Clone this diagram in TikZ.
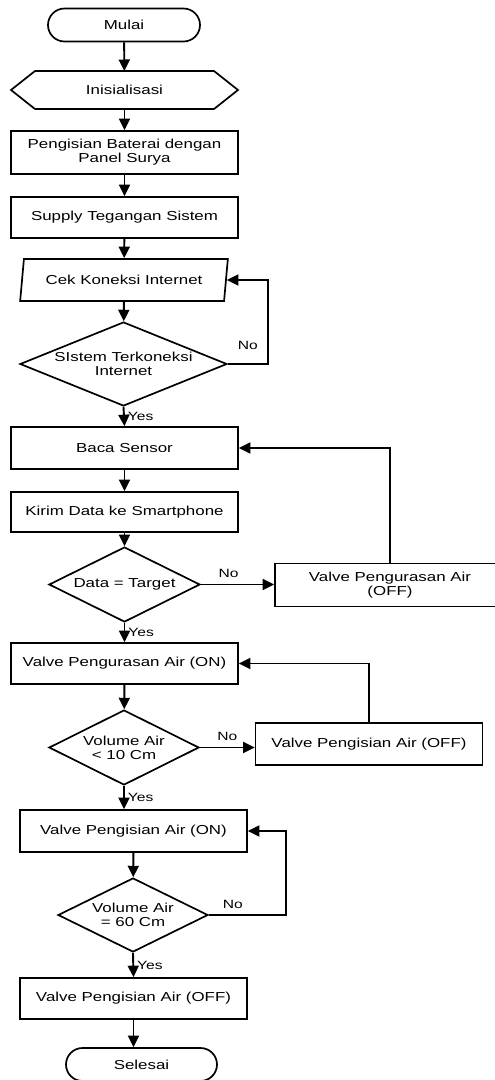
\documentclass[tikz,border=0pt]{standalone}
\usepackage{fontspec}
\setmainfont{Liberation Sans}[FakeStretch=1.3]
\usetikzlibrary{arrows.meta, shapes.geometric, shapes.misc}

\begin{document}
\begin{tikzpicture}[x = 1pt, y = -1pt,
		font = \fontsize{13}{14}\selectfont,
		every node/.style = {align = center, inner sep = 0pt, line width = 1.7pt},
		terminal/.style = {rounded rectangle, draw, minimum width = 152, minimum height = 33},
		process/.style = {rectangle, draw, minimum width = 227, minimum height = 42},
		decision/.style = {diamond, draw, aspect = 2, minimum width = 150, minimum height = 75},
		inout/.style = {trapezium, draw, trapezium stretches, trapezium left angle = 72.8,
			trapezium right angle = 107.2, minimum width = 208, minimum height = 42},
		flow/.style = {line width = 1.9pt, -{Triangle[length = 11.5pt, width = 11pt]}},
		tag/.style = {font = \fontsize{12}{14}\selectfont, inner sep = 3pt}]
			 	\useasboundingbox (0, 0) rectangle (495, 1080);
			 	\clip (0, 0) rectangle (495, 1080);

			 	% Nodes
			 	\node[terminal] (mulai) at (124, 25) {Mulai};
			 	\node[minimum width = 227, minimum height = 38, outer sep = 0pt] (init) at (124.5, 90) {Inisialisasi};
			 	\draw[line width = 1.7pt] (init.west) -- ([xshift = 24]init.north west) -- ([xshift = -24]init.north east)
			 		-- (init.east) -- ([xshift = -24]init.south east) -- ([xshift = 24]init.south west) -- cycle;
			 	\node[process, minimum height = 43] (baterai) at (124.5, 152.5) {Pengisian Baterai dengan\\Panel Surya};
			 	\node[process, minimum height = 41] (supply) at (124.5, 217.5) {Supply Tegangan Sistem};
			 	\node[inout] (cek) at (124, 280) {Cek Koneksi Internet};
			 	\node[decision, aspect = 2.46, minimum width = 207, minimum height = 84] (koneksi) at (123.5, 364) {SIstem Terkoneksi\\Internet};
			 	\node[process] (baca) at (124.5, 448) {Baca Sensor};
			 	\node[process, minimum height = 40] (kirim) at (124.5, 512) {Kirim Data ke Smartphone};
			 	\node[decision, minimum width = 151] (target) at (124.5, 584.5) {Data = Target};
			 	\node[process, minimum width = 230, minimum height = 43] (kurasoff) at (390, 585) {Valve Pengurasan Air\\(OFF)};
			 	\node[process, minimum height = 41] (kurason) at (124.5, 663.5) {Valve Pengurasan Air (ON)};
			 	\node[decision] (vol10) at (124, 747.5) {Volume Air\\< 10 Cm};
			 	\node[process] (isioff) at (369, 744) {Valve Pengisian Air (OFF)};
			 	\node[process] (ision) at (133.5, 831) {Valve Pengisian Air (ON)};
			 	\node[decision, minimum height = 74] (vol60) at (133, 915) {Volume Air\\= 60 Cm};
			 	\node[process, minimum height = 41] (isiakhir) at (133.5, 998.5) {Valve Pengisian Air (OFF)};
			 	\node[terminal, minimum width = 151] (selesai) at (141.5, 1064.5) {Selesai};

			 	% Edges
			 	\draw[flow] (mulai) to (init);
			 	\draw[flow] (init) to (baterai);
			 	\draw[flow] (baterai) to (supply);
			 	\draw[flow] (supply) to (cek);
			 	\draw[flow] (cek) to (koneksi);
			 	\draw[flow] (koneksi.east) -- node[tag, above = 11pt] (no1) {No} ++(40, 0) |- (cek.east);
			 	\draw[flow] (koneksi.south) -- node[tag, right] (yes1) {Yes} (baca.north);
			 	\draw[flow] (baca) to (kirim);
			 	\draw[flow] (kirim) to (target);
			 	\draw[flow] (target.east) -- node[tag, above = 3pt, pos = 0.38] (no2) {No} (target.east -| kurasoff.west);
			 	\draw[flow] (kurasoff.north) |- (baca.east);
			 	\draw[flow] (target.south) -- node[tag, right] (yes2) {Yes} (kurason.north);
			 	\draw[flow] (kurason) to (vol10);
			 	\draw[flow] (vol10.east) -- node[tag, above = 3pt] (no3) {No} (vol10.east -| isioff.west);
			 	\draw[flow] (isioff.north) |- (kurason.east);
			 	\draw[flow] (vol10.south) -- node[tag, right] (yes3) {Yes} (vol10.south |- ision.north);
			 	\draw[flow] (ision) to (vol60);
			 	\draw[flow] (vol60.east) -- node[tag, above = 3pt, pos = 0.31] (no4) {No} ++(77, 0) |- (ision.east);
			 	\draw[flow] (vol60.south) -- node[tag, right] (yes4) {Yes} (isiakhir.north);
			 	\draw[flow] (isiakhir.south) -- (isiakhir.south |- selesai.north);
			\end{tikzpicture}
\end{document}
